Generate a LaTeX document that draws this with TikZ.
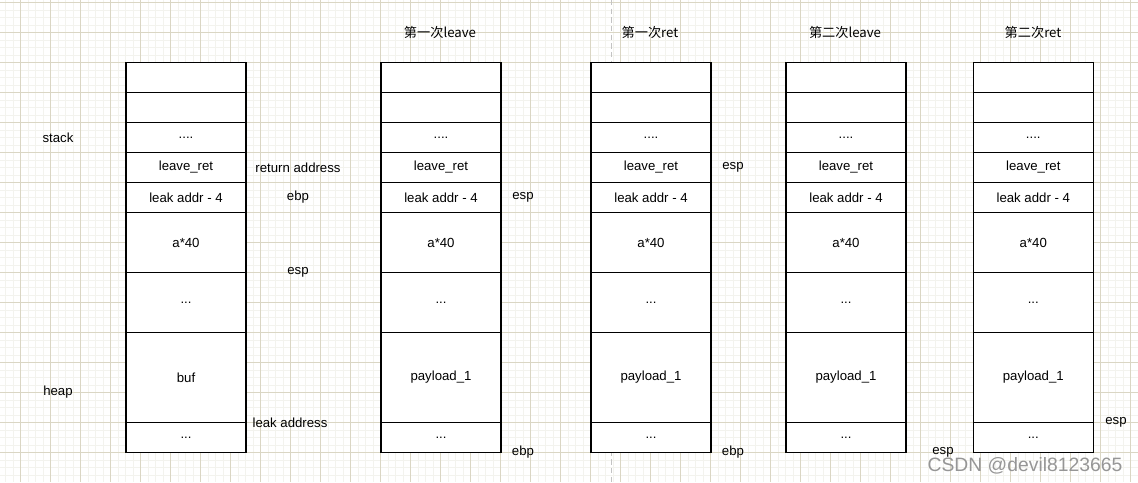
\documentclass[tikz,border=0pt]{standalone}
\usepackage{fontspec}
\setmainfont{Liberation Sans}
\newfontfamily\cjk{Noto Sans CJK SC}
\usetikzlibrary{positioning}
\definecolor{gridmaj}{RGB}{218,214,196}
\definecolor{gridmin}{RGB}{243,243,238}
\definecolor{sepgray}{RGB}{195,195,195}
\definecolor{wmark}{RGB}{150,150,150}

% one stack column: #1 name, #2 x of its centre, #3 text of the big cell
\newcommand{\stackcol}[3]{%
  \node[cell]            (#1r1) at (#2,77.5)  {};
  \node[cell]            (#1r2) at (#2,107.5) {};
  \node[cell]            (#1r3) at (#2,137.5) {....};
  \node[cell]            (#1r4) at (#2,167.5) {leave\_ret};
  \node[cell]            (#1r5) at (#2,197.5) {leak addr - 4};
  \node[cell, tall]      (#1r6) at (#2,242.5) {a*40};
  \node[cell, tall]      (#1r7) at (#2,302.5) {...};
  \node[cell, talltall]  (#1r8) at (#2,377.5) {#3};
  \node[cell]            (#1r9) at (#2,437.5) {...};
}

\begin{document}
\begin{tikzpicture}[x=0.75pt, y=-0.75pt, font=\fontsize{9.9}{12}\selectfont,
  cell/.style={rectangle, draw=black, line width=0.8pt, fill=white, inner sep=0pt,
               outer sep=0pt, minimum width=90pt, minimum height=22.5pt},
  tall/.style={minimum height=45pt},
  talltall/.style={minimum height=67.5pt},
  lbl/.style={inner sep=0pt},
  title/.style={inner sep=0pt, font=\fontsize{9.9}{12}\selectfont\cjk}]
  \useasboundingbox (0,0) rectangle (1138,482);
  % background grid
  \fill[white] (0,0) rectangle (1138,482);
  \foreach \x in {5.5,13,...,1138} \draw[gridmin, line width=0.75pt] (\x,0) -- (\x,482);
  \foreach \y in {2.5,10,...,482} \draw[gridmin, line width=0.75pt] (0,\y) -- (1138,\y);
  \foreach \x in {20.5,50.5,...,1138} \draw[gridmaj, line width=0.75pt] (\x,0) -- (\x,482);
  \foreach \y in {2.5,32.5,...,482} \draw[gridmaj, line width=0.75pt] (0,\y) -- (1138,\y);
  \draw[sepgray, line width=0.9pt, dash pattern=on 4pt off 2.5pt] (611.7,0) -- (611.7,482);

  % the five stacks
  \stackcol{a}{186}{buf}
  \stackcol{b}{441}{payload\_1}
  \stackcol{c}{651}{payload\_1}
  \stackcol{d}{846}{payload\_1}
  \stackcol{e}{1033.3}{payload\_1}

  \node[title] (tb) at (440,32.5)  {第一次leave};
  \node[title] (tc) at (650,32.5)  {第一次ret};
  \node[title] (td) at (845,32.5)  {第二次leave};
  \node[title] (te) at (1033,32.5) {第二次ret};

  \node[lbl] (stack) at (58,137.5) {stack};
  \node[lbl] (heap)  at (58,392.5) {heap};

  \node[lbl] (ra)   at (298,167.5) {return address};
  \node[lbl] (aebp) at (298,197.5) {ebp};
  \node[lbl] (aesp) at (298,272.5) {esp};
  \node[lbl] (leak) at (290,422.5) {leak address};

  \node[lbl] (besp) at (523,197.5) {esp};
  \node[lbl] (bebp) at (523,452.5) {ebp};
  \node[lbl] (cesp) at (733,167.5) {esp};
  \node[lbl] (cebp) at (733,452.5) {ebp};
  \node[lbl] (desp) at (943,452.5) {esp};
  \node[lbl] (eesp) at (1116,422.5) {esp};

  \node[lbl, text=wmark, font=\fontsize{14.5}{16}\selectfont] (wm) at (1025,466) {CSDN @devil8123665};
\end{tikzpicture}
\end{document}
